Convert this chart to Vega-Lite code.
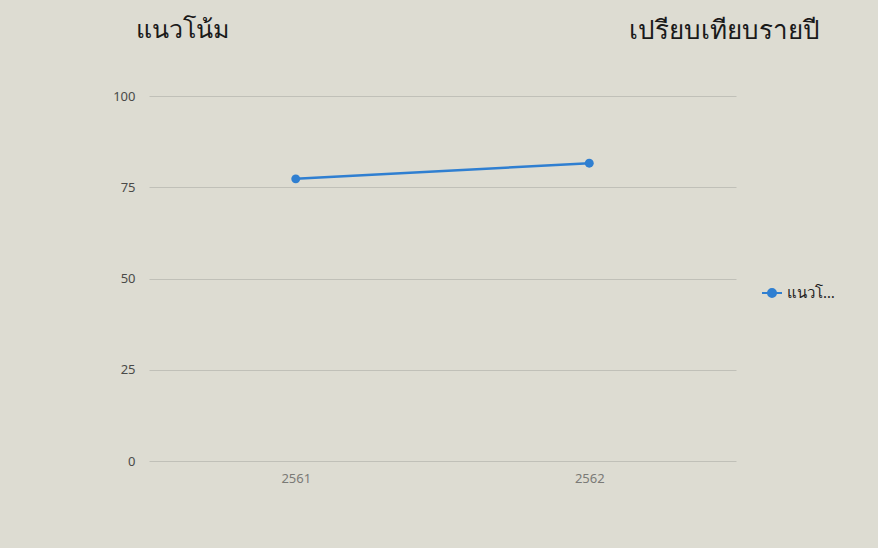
{
  "$schema": "https://vega.github.io/schema/vega-lite/v6.json",
  "width": 587,
  "height": 365,
  "padding": {"left": 112, "top": 17, "right": 58, "bottom": 65},
  "background": "#dddcd2",
  "title": {"text": "แนวโน้ม", "anchor": "start", "frame": "group", "dx": -13, "fontSize": 25, "font": "Noto Sans", "fontWeight": "normal", "color": "#1a1a1a", "offset": -26},
  "data": {"values": [
    {"year": "2561", "value": 77.3, "series": "แนวโน้ม"},
    {"year": "2562", "value": 81.6, "series": "แนวโน้ม"}
  ]},
  "config": {
    "font": "Noto Sans",
    "view": {"stroke": null},
    "axis": {"labelFontSize": 13, "labelFont": "Noto Sans"}
  },
  "layer": [
    {
      "mark": {"type": "line", "strokeWidth": 2.5},
      "encoding": {
        "x": {"field": "year", "type": "ordinal", "scale": {"type": "point", "padding": 0.5},
              "axis": {"title": null, "labelAngle": 0, "domain": false, "ticks": false, "grid": false, "labelPadding": 11, "labelColor": "#7a7a76"}},
        "y": {"field": "value", "type": "quantitative", "scale": {"domain": [0, 100]},
              "axis": {"title": null, "values": [0, 25, 50, 75, 100], "domain": false, "ticks": false, "gridColor": "#c0c0b8", "gridWidth": 1, "labelPadding": 14, "labelColor": "#4a4a48"}},
        "color": {"field": "series", "type": "nominal", "scale": {"range": ["#2f7fd1"]},
                  "legend": {"title": null, "orient": "none", "legendX": 612, "legendY": 186, "labelFontSize": 15, "labelColor": "#222", "labelLimit": 48,
                             "symbolType": "M-1,0L1,0M-0.4,0A0.4,0.4,0,1,1,0.4,0A0.4,0.4,0,1,1,-0.4,0Z", "symbolSize": 400, "symbolStrokeWidth": 2, "symbolFillColor": "#2f7fd1", "symbolStrokeColor": "#2f7fd1"}}
      }
    },
    {
      "mark": {"type": "point", "filled": true, "size": 80, "opacity": 1},
      "encoding": {
        "x": {"field": "year", "type": "ordinal", "scale": {"type": "point", "padding": 0.5},
              "axis": {"orient": "top", "labels": false, "ticks": false, "domain": false, "grid": false,
                       "title": "เปรียบเทียบรายปี", "titleFontSize": 26, "titleFontWeight": "normal", "titleColor": "#1a1a1a", "titleFont": "Noto Sans",
                       "titleX": 670, "titleY": -66, "titleAlign": "right", "titleBaseline": "middle", "titleAnchor": "end"}},
        "y": {"field": "value", "type": "quantitative"},
        "color": {"field": "series", "type": "nominal"}
      }
    }
  ],
  "resolve": {"scale": {"x": "independent"}, "axis": {"x": "independent"}}
}
